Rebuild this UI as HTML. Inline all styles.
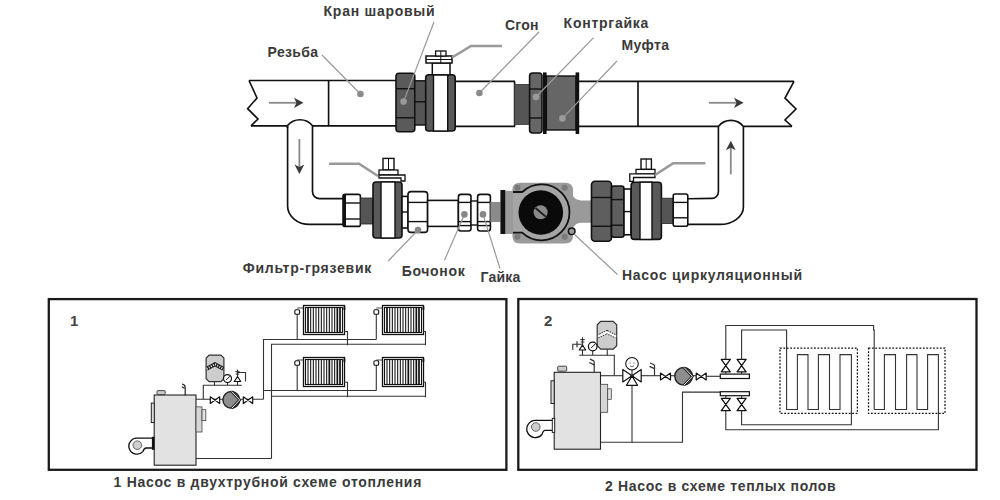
<!DOCTYPE html><html><head><meta charset="utf-8"><style>html,body{margin:0;padding:0;background:#fff;width:1000px;height:500px;overflow:hidden}svg{display:block}</style></head><body><svg width="1000" height="500" viewBox="0 0 1000 500"><g fill="none" stroke="#111" stroke-width="1.65"><path d="M249,80.5 L396,80.5"/><path d="M251,125.8 L287.4,125.8 M312.5,125.8 L396,125.8"/><path d="M249,80.5 L257,98 L247.6,108.6 L258,119 L251,125.8" stroke-linejoin="miter"/><line x1="328.6" y1="80.5" x2="328.6" y2="125.8"/><path d="M455,81.4 L515,81.4 M455,126.4 L515,126.4"/><path d="M579,81.4 L794,81.4 M579,126.4 L718.6,126.4 M743.8,126.4 L792,126.4"/><path d="M794,81.4 L785,98 L796,109 L785,120 L792,126.4"/><line x1="514.6" y1="81.4" x2="514.6" y2="126.4"/><line x1="638" y1="81.4" x2="638" y2="126.4"/></g><g stroke="#8a8a8a" stroke-width="1.8" fill="#3a3a3a"><line x1="269" y1="102.8" x2="297" y2="102.8"/><path d="M303.5,102.8 L294,97.7 L296.5,102.8 L294,107.9Z" stroke="none"/><line x1="709" y1="102.8" x2="737" y2="102.8"/><path d="M743.6,102.8 L734,97.7 L736.5,102.8 L734,107.9Z" stroke="none"/></g><g fill="none" stroke="#111" stroke-width="1.65"><path d="M287.4,128 L287.4,125.8 A16,16 0 0 1 312.5,125.8 L312.5,191.6 A7,7 0 0 0 319.5,198.6 L345.6,198.6"/><path d="M287.6,126 L287.6,206 A22,18.4 0 0 0 309.6,224.4 L345.6,224.4"/><path d="M687.8,198.7 L711.8,198.4 A6.6,6.6 0 0 0 718.4,191.8 L718.4,126.4 A16,16 0 0 1 743.4,126.4 L743.4,207 A23.6,17.4 0 0 1 719.8,224.4 L687.8,224.4"/></g><g stroke="#8a8a8a" stroke-width="1.8" fill="#3a3a3a"><line x1="299.4" y1="139" x2="299.4" y2="167"/><path d="M299.4,174 L294.5,164.5 L299.4,167 L304.3,164.5Z" stroke="none"/><line x1="730.8" y1="174.4" x2="730.8" y2="148"/><path d="M730.8,140.8 L725.9,150.3 L730.8,147.8 L735.7,150.3Z" stroke="none"/></g><rect x="396" y="73.2" width="18.80000000000001" height="58.60000000000001" rx="3" fill="#5a5a5a" stroke="#111" stroke-width="1.6"/><line x1="396" y1="88.7" x2="414.8" y2="88.7" stroke="#111" stroke-width="1.4"/><line x1="396" y1="117.8" x2="414.8" y2="117.8" stroke="#111" stroke-width="1.4"/><rect x="414.8" y="80.8" width="10.9" height="44.2" fill="#555" stroke="#111" stroke-width="1.4"/><line x1="414.8" y1="101.8" x2="425.7" y2="101.8" stroke="#111" stroke-width="1.4"/><rect x="425.7" y="74.8" width="29.5" height="56.2" rx="3" fill="#5a5a5a" stroke="#111" stroke-width="1.6"/><rect x="433.5" y="74.8" width="14.2" height="56.2" fill="#fff" stroke="#111" stroke-width="1.4"/><rect x="432.3" y="63" width="17.7" height="11.8" fill="#fff" stroke="#111" stroke-width="1.5"/><rect x="426" y="56" width="26" height="7" fill="#fff" stroke="#111" stroke-width="1.5"/><line x1="426" y1="59.5" x2="452" y2="59.5" stroke="#111" stroke-width="1"/><rect x="435.6" y="51" width="10.4" height="5" fill="#fff" stroke="#111" stroke-width="1.3"/><line x1="440.8" y1="51" x2="440.8" y2="63" stroke="#111" stroke-width="1"/><path d="M452,57.5 L471,46 L502,46" fill="none" stroke="#999" stroke-width="2.6"/><rect x="514.4" y="84.4" width="15.2" height="40" fill="#555" stroke="#333" stroke-width="0.8"/><rect x="529.6" y="73" width="12.399999999999977" height="60" rx="3" fill="#666" stroke="#111" stroke-width="1.6"/><line x1="529.6" y1="89" x2="542" y2="89" stroke="#111" stroke-width="1.4"/><line x1="529.6" y1="118" x2="542" y2="118" stroke="#111" stroke-width="1.4"/><rect x="546.4" y="76" width="29.6" height="54" fill="#666" stroke="#111" stroke-width="1.4"/><rect x="543" y="72.4" width="3.6" height="61.6" fill="#111"/><rect x="575.6" y="72.4" width="3.6" height="61.6" fill="#111"/><rect x="343" y="194.4" width="17.399999999999977" height="32.0" rx="2" fill="#fff" stroke="#111" stroke-width="1.6"/><line x1="343" y1="203" x2="360.4" y2="203" stroke="#111" stroke-width="1.4"/><line x1="343" y1="219" x2="360.4" y2="219" stroke="#111" stroke-width="1.4"/><rect x="343" y="194.4" width="3" height="32" fill="#111"/><rect x="360.4" y="198" width="12.6" height="26" fill="#555" stroke="#222" stroke-width="0.8"/><rect x="373" y="182" width="29" height="56" rx="3" fill="#5a5a5a" stroke="#111" stroke-width="1.6"/><rect x="381" y="182" width="14" height="56" fill="#fff" stroke="#111" stroke-width="1.4"/><rect x="383" y="158.4" width="11" height="11.6" fill="#fff" stroke="#111" stroke-width="1.4"/><line x1="388.5" y1="158.4" x2="388.5" y2="170" stroke="#111" stroke-width="1"/><rect x="379" y="170" width="19" height="5" fill="#fff" stroke="#111" stroke-width="1.3"/><path d="M379,175 L405,175 L405,181 L401,181 L401,178 L379,178Z" fill="#fff" stroke="#111" stroke-width="1.3"/><path d="M329,163.7 L359,163.7 L378,176" fill="none" stroke="#999" stroke-width="2.6"/><rect x="402" y="196.4" width="6" height="31.599999999999994" rx="0" fill="#fff" stroke="#111" stroke-width="1.6"/><line x1="402" y1="212" x2="408" y2="212" stroke="#111" stroke-width="1.4"/><rect x="408" y="191.6" width="19.600000000000023" height="40.80000000000001" rx="3" fill="#fff" stroke="#111" stroke-width="1.6"/><line x1="408" y1="202.4" x2="427.6" y2="202.4" stroke="#111" stroke-width="1.4"/><line x1="408" y1="221.6" x2="427.6" y2="221.6" stroke="#111" stroke-width="1.4"/><rect x="427.6" y="200.4" width="30.8" height="26" fill="#fff" stroke="#111" stroke-width="1.6"/><rect x="458.4" y="194.4" width="12.600000000000023" height="36.599999999999994" rx="2.5" fill="#fff" stroke="#111" stroke-width="1.6"/><line x1="458.4" y1="202.4" x2="471" y2="202.4" stroke="#111" stroke-width="1.4"/><line x1="458.4" y1="221.6" x2="471" y2="221.6" stroke="#111" stroke-width="1.4"/><line x1="458.4" y1="225.6" x2="471" y2="225.6" stroke="#111" stroke-width="1.4"/><rect x="471" y="201" width="6.6" height="24" fill="#fff" stroke="#111" stroke-width="1.4"/><rect x="477.6" y="194.4" width="12.799999999999955" height="36.599999999999994" rx="2.5" fill="#fff" stroke="#111" stroke-width="1.6"/><line x1="477.6" y1="202.4" x2="490.4" y2="202.4" stroke="#111" stroke-width="1.4"/><line x1="477.6" y1="221.6" x2="490.4" y2="221.6" stroke="#111" stroke-width="1.4"/><line x1="477.6" y1="225.6" x2="490.4" y2="225.6" stroke="#111" stroke-width="1.4"/><rect x="490.4" y="202" width="10" height="20" fill="#8a8a8a"/><path d="M505,190.8 L512.4,190.8 L512.4,190 Q512.4,182.8 520,182.8 L565,182.8 Q573,182.8 573,190 L573,196 Q576,200.4 581,200.4 L591,200.4 L591,222.8 L581,222.8 Q576,222.8 573,228 L573,236 Q573,243.6 565,243.6 L520,243.6 Q512.4,243.6 512.4,236 L512.4,234 L505,234Z" fill="#9a9a9a"/><rect x="500.4" y="190" width="4.8" height="44" fill="#111"/><path d="M513,192 L522.2,192 A28,28 0 1 1 522.2,232.6 L513,232.6" fill="#a5a5a5" stroke="#111" stroke-width="1.8"/><circle cx="540.8" cy="212.5" r="22.3" fill="#0a0a0a"/><circle cx="540.6" cy="212.3" r="7" fill="#8a8a8a"/><line x1="535.5" y1="208" x2="545.7" y2="216.6" stroke="#1a1a1a" stroke-width="1.8"/><circle cx="517.5" cy="187.8" r="3" fill="#7a7a7a"/><circle cx="564.7" cy="187.8" r="3" fill="#7a7a7a"/><circle cx="517.5" cy="236.8" r="3" fill="#7a7a7a"/><circle cx="564.7" cy="236.8" r="3" fill="#7a7a7a"/><circle cx="571.7" cy="231.2" r="3.3" fill="#9a9a9a" stroke="#111" stroke-width="1.5"/><rect x="591.5" y="181.2" width="20.0" height="60.0" rx="3.5" fill="#5e5e5e" stroke="#111" stroke-width="1.6"/><line x1="591.5" y1="197.5" x2="611.5" y2="197.5" stroke="#111" stroke-width="1.4"/><line x1="591.5" y1="226.3" x2="611.5" y2="226.3" stroke="#111" stroke-width="1.4"/><rect x="611.5" y="186" width="12.5" height="51.19999999999999" rx="2.5" fill="#5e5e5e" stroke="#111" stroke-width="1.6"/><line x1="611.5" y1="199.6" x2="624" y2="199.6" stroke="#111" stroke-width="1.4"/><line x1="611.5" y1="225.2" x2="624" y2="225.2" stroke="#111" stroke-width="1.4"/><rect x="624" y="189" width="7" height="45.80000000000001" rx="0" fill="#fff" stroke="#111" stroke-width="1.6"/><line x1="624" y1="211.6" x2="631" y2="211.6" stroke="#111" stroke-width="1.4"/><rect x="631.2" y="182.2" width="30.2" height="57.2" rx="3" fill="#5a5a5a" stroke="#111" stroke-width="1.6"/><rect x="640" y="182.2" width="12" height="57.2" fill="#fff" stroke="#111" stroke-width="1.4"/><rect x="641" y="159" width="10.4" height="10.4" fill="#fff" stroke="#111" stroke-width="1.4"/><line x1="646.2" y1="159" x2="646.2" y2="169.4" stroke="#111" stroke-width="1"/><rect x="636" y="169.4" width="19" height="4.4" fill="#fff" stroke="#111" stroke-width="1.3"/><path d="M629.8,181.4 L629.8,173.8 L655,173.8 L655,177.5 L633.5,177.5 L633.5,181.4Z" fill="#fff" stroke="#111" stroke-width="1.3"/><path d="M655,175 L673.2,163.2 L705.4,163.2" fill="none" stroke="#999" stroke-width="2.6"/><rect x="661.4" y="198.2" width="11.8" height="25.2" fill="#555" stroke="#222" stroke-width="0.8"/><rect x="673.2" y="194" width="14.599999999999909" height="32.19999999999999" rx="2" fill="#fff" stroke="#111" stroke-width="1.6"/><line x1="673.2" y1="202.4" x2="687.8" y2="202.4" stroke="#111" stroke-width="1.4"/><line x1="673.2" y1="217.8" x2="687.8" y2="217.8" stroke="#111" stroke-width="1.4"/><g stroke="#999" stroke-width="1.2"><line x1="322" y1="55" x2="360.4" y2="94"/><line x1="434" y1="22" x2="403.6" y2="101.6"/><line x1="539" y1="32" x2="479.4" y2="93"/><line x1="593.6" y1="37.6" x2="536" y2="97"/><line x1="617" y1="61" x2="562.4" y2="118.4"/><line x1="388.2" y1="261" x2="418" y2="230"/><line x1="444.5" y1="260.2" x2="464.4" y2="214.4"/><line x1="500" y1="268.5" x2="483" y2="214.4"/><line x1="617.5" y1="274.5" x2="574" y2="234"/></g><circle cx="360.4" cy="94" r="3.3" fill="#8a8a8a"/><circle cx="479.4" cy="93" r="3.3" fill="#8a8a8a"/><circle cx="403.6" cy="101.6" r="3.3" fill="#999"/><circle cx="536" cy="97" r="3.3" fill="#9a9a9a"/><circle cx="562.4" cy="118.4" r="3.3" fill="#9a9a9a"/><circle cx="418" cy="230" r="3.3" fill="#888"/><circle cx="464.4" cy="214.4" r="3.3" fill="#888"/><circle cx="483" cy="214.4" r="3.3" fill="#888"/><g font-family="Liberation Sans, sans-serif" font-weight="bold" font-size="14" fill="#3a3a3a"><text x="323.6" y="16" textLength="111" lengthAdjust="spacing">Кран шаровый</text><text x="267.6" y="57" textLength="50.4" lengthAdjust="spacing">Резьба</text><text x="505" y="29.6" textLength="33.4" lengthAdjust="spacing">Сгон</text><text x="563.6" y="28" textLength="84.8" lengthAdjust="spacing">Контргайка</text><text x="621.6" y="50.4" textLength="47.4" lengthAdjust="spacing">Муфта</text><text x="242.7" y="273.3" textLength="128.6" lengthAdjust="spacing">Фильтр-грязевик</text><text x="401.7" y="276" textLength="63" lengthAdjust="spacing">Бочонок</text><text x="480.5" y="281.7" textLength="39.7" lengthAdjust="spacing">Гайка</text><text x="622" y="279.5" textLength="180" lengthAdjust="spacing">Насос циркуляционный</text><text x="113.6" y="487.1" textLength="307.7" lengthAdjust="spacing">1 Насос в двухтрубной схеме отопления</text><text x="605" y="490.7" textLength="230.7" lengthAdjust="spacing">2 Насос в схеме теплых полов</text></g><rect x="48.8" y="299.1" width="457.6" height="170.7" fill="none" stroke="#1a1a1a" stroke-width="2.3"/><rect x="518.3" y="299" width="458.2" height="170.8" fill="none" stroke="#1a1a1a" stroke-width="2.3"/><rect x="303.5" y="305.5" width="41.0" height="29.0" fill="#fff" stroke="#111" stroke-width="1.3"/><rect x="305.5" y="307.5" width="37.0" height="25.0" fill="#fff" stroke="#111" stroke-width="1.1"/><rect x="307.15" y="307.5" width="1.7" height="25.0" fill="#111"/><rect x="310.14" y="307.5" width="1.05" height="25.0" fill="#111"/><rect x="312.81" y="307.5" width="1.05" height="25.0" fill="#111"/><rect x="315.48" y="307.5" width="1.05" height="25.0" fill="#111"/><rect x="318.14" y="307.5" width="1.05" height="25.0" fill="#111"/><rect x="320.81" y="307.5" width="1.05" height="25.0" fill="#111"/><rect x="323.48" y="307.5" width="1.05" height="25.0" fill="#111"/><rect x="326.14" y="307.5" width="1.05" height="25.0" fill="#111"/><rect x="328.81" y="307.5" width="1.05" height="25.0" fill="#111"/><rect x="331.48" y="307.5" width="1.05" height="25.0" fill="#111"/><rect x="334.14" y="307.5" width="1.05" height="25.0" fill="#111"/><rect x="336.48" y="307.5" width="1.7" height="25.0" fill="#111"/><rect x="339.15" y="307.5" width="1.7" height="25.0" fill="#111"/><rect x="303.5" y="357.5" width="41.0" height="29.0" fill="#fff" stroke="#111" stroke-width="1.3"/><rect x="305.5" y="359.5" width="37.0" height="25.0" fill="#fff" stroke="#111" stroke-width="1.1"/><rect x="307.48" y="359.5" width="1.05" height="25.0" fill="#111"/><rect x="310.14" y="359.5" width="1.05" height="25.0" fill="#111"/><rect x="312.81" y="359.5" width="1.05" height="25.0" fill="#111"/><rect x="315.48" y="359.5" width="1.05" height="25.0" fill="#111"/><rect x="318.14" y="359.5" width="1.05" height="25.0" fill="#111"/><rect x="320.81" y="359.5" width="1.05" height="25.0" fill="#111"/><rect x="323.48" y="359.5" width="1.05" height="25.0" fill="#111"/><rect x="326.14" y="359.5" width="1.05" height="25.0" fill="#111"/><rect x="328.48" y="359.5" width="1.7" height="25.0" fill="#111"/><rect x="331.48" y="359.5" width="1.05" height="25.0" fill="#111"/><rect x="334.14" y="359.5" width="1.05" height="25.0" fill="#111"/><rect x="336.48" y="359.5" width="1.7" height="25.0" fill="#111"/><rect x="339.15" y="359.5" width="1.7" height="25.0" fill="#111"/><rect x="382.5" y="305.5" width="41.0" height="29.0" fill="#fff" stroke="#111" stroke-width="1.3"/><rect x="384.5" y="307.5" width="37.0" height="25.0" fill="#fff" stroke="#111" stroke-width="1.1"/><rect x="386.15" y="307.5" width="1.7" height="25.0" fill="#111"/><rect x="389.14" y="307.5" width="1.05" height="25.0" fill="#111"/><rect x="391.81" y="307.5" width="1.05" height="25.0" fill="#111"/><rect x="394.48" y="307.5" width="1.05" height="25.0" fill="#111"/><rect x="397.14" y="307.5" width="1.05" height="25.0" fill="#111"/><rect x="399.81" y="307.5" width="1.05" height="25.0" fill="#111"/><rect x="402.48" y="307.5" width="1.05" height="25.0" fill="#111"/><rect x="405.14" y="307.5" width="1.05" height="25.0" fill="#111"/><rect x="407.81" y="307.5" width="1.05" height="25.0" fill="#111"/><rect x="410.48" y="307.5" width="1.05" height="25.0" fill="#111"/><rect x="413.14" y="307.5" width="1.05" height="25.0" fill="#111"/><rect x="415.48" y="307.5" width="1.7" height="25.0" fill="#111"/><rect x="418.15" y="307.5" width="1.7" height="25.0" fill="#111"/><rect x="382.5" y="357.5" width="41.0" height="29.0" fill="#fff" stroke="#111" stroke-width="1.3"/><rect x="384.5" y="359.5" width="37.0" height="25.0" fill="#fff" stroke="#111" stroke-width="1.1"/><rect x="386.48" y="359.5" width="1.05" height="25.0" fill="#111"/><rect x="389.14" y="359.5" width="1.05" height="25.0" fill="#111"/><rect x="391.81" y="359.5" width="1.05" height="25.0" fill="#111"/><rect x="394.48" y="359.5" width="1.05" height="25.0" fill="#111"/><rect x="397.14" y="359.5" width="1.05" height="25.0" fill="#111"/><rect x="399.81" y="359.5" width="1.05" height="25.0" fill="#111"/><rect x="402.48" y="359.5" width="1.05" height="25.0" fill="#111"/><rect x="405.14" y="359.5" width="1.05" height="25.0" fill="#111"/><rect x="407.48" y="359.5" width="1.7" height="25.0" fill="#111"/><rect x="410.48" y="359.5" width="1.05" height="25.0" fill="#111"/><rect x="413.14" y="359.5" width="1.05" height="25.0" fill="#111"/><rect x="415.48" y="359.5" width="1.7" height="25.0" fill="#111"/><rect x="418.15" y="359.5" width="1.7" height="25.0" fill="#111"/><path d="M297.2,339.5 L297.2,312" fill="none" stroke="#333" stroke-width="1.1"/><path d="M297.2,308 L303,308" fill="none" stroke="#333" stroke-width="0.9"/><rect x="294.8" y="309.8" width="4.8" height="4.4" rx="1.3" fill="#fff" stroke="#111" stroke-width="1.1"/><path d="M344,331.5 L347.5,331.5 L347.5,345.2" fill="none" stroke="#333" stroke-width="1.1"/><rect x="343.5" y="306.5" width="1.8" height="3.5" fill="#111"/><path d="M297.2,390.5 L297.2,363" fill="none" stroke="#333" stroke-width="1.1"/><path d="M297.2,360 L303,360" fill="none" stroke="#333" stroke-width="0.9"/><rect x="294.8" y="360.8" width="4.8" height="4.4" rx="1.3" fill="#fff" stroke="#111" stroke-width="1.1"/><path d="M344,382.2 L347.5,382.2 L347.5,397.2" fill="none" stroke="#333" stroke-width="1.1"/><rect x="343.5" y="358.5" width="1.8" height="3.5" fill="#111"/><path d="M376.3,339.5 L376.3,312" fill="none" stroke="#333" stroke-width="1.1"/><path d="M376.3,308 L382,308" fill="none" stroke="#333" stroke-width="0.9"/><rect x="373.90000000000003" y="309.8" width="4.8" height="4.4" rx="1.3" fill="#fff" stroke="#111" stroke-width="1.1"/><path d="M423,331.5 L425.5,331.5 L425.5,345.2" fill="none" stroke="#333" stroke-width="1.1"/><rect x="422.5" y="306.5" width="1.8" height="3.5" fill="#111"/><path d="M376.3,390.5 L376.3,363" fill="none" stroke="#333" stroke-width="1.1"/><path d="M376.3,360 L382,360" fill="none" stroke="#333" stroke-width="0.9"/><rect x="373.90000000000003" y="360.8" width="4.8" height="4.4" rx="1.3" fill="#fff" stroke="#111" stroke-width="1.1"/><path d="M423,382.2 L425.5,382.2 L425.5,397.2" fill="none" stroke="#333" stroke-width="1.1"/><rect x="422.5" y="358.5" width="1.8" height="3.5" fill="#111"/><path d="M263.5,399.3 L263.5,339.5 L376.3,339.5" fill="none" stroke="#333" stroke-width="1.1"/><path d="M263.5,390.5 L376.3,390.5" fill="none" stroke="#333" stroke-width="1.1"/><path d="M271.5,458.5 L271.5,344.2 L425.5,344.2" fill="none" stroke="#333" stroke-width="1.1"/><path d="M271.5,396.2 L425.5,396.2" fill="none" stroke="#333" stroke-width="1.1"/><path d="M196,458.5 L271.5,458.5" fill="none" stroke="#333" stroke-width="1.1"/><path d="M196,399.3 L263.5,399.3" fill="none" stroke="#333" stroke-width="1.1"/><path d="M203.3,399.3 L203.3,385.3 L241.8,385.3" fill="none" stroke="#333" stroke-width="1.1"/><path d="M214.5,381.7 L214.5,385.3" fill="none" stroke="#333" stroke-width="1.1"/><path d="M227.5,382.6 L227.5,385.3" fill="none" stroke="#333" stroke-width="1.1"/><path d="M210.3,396.8 L219.7,403.59999999999997 L219.7,396.8 L210.3,403.59999999999997Z" fill="#fff" stroke="#111" stroke-width="1.2" stroke-linejoin="round"/><path d="M243.3,396.8 L252.7,403.59999999999997 L252.7,396.8 L243.3,403.59999999999997Z" fill="#fff" stroke="#111" stroke-width="1.2" stroke-linejoin="round"/><circle cx="231.3" cy="399.9" r="8.4" fill="#8e8e8e" stroke="#222" stroke-width="1.4"/><path d="M231.72,391.5 L239.70000000000002,399.9 L231.72,408.29999999999995" fill="none" stroke="#222" stroke-width="2.6" stroke-linejoin="miter"/><path d="M231.72,391.5 L239.70000000000002,399.9 L231.72,408.29999999999995" fill="none" stroke="#eee" stroke-width="1"/><path d="M209.1,355.1 L220.9,355.1 L223.9,358.1 L223.9,378.7 L220.9,381.7 L209.1,381.7 L206.1,378.7 L206.1,358.1Z" fill="#cdcdcd" stroke="#333" stroke-width="1.2"/><path d="M206.7,368.74 L215.0,364.24 L223.3,368.74" fill="none" stroke="#1a1a1a" stroke-width="4"/><path d="M206.7,368.74 L215.0,364.24 L223.3,368.74" fill="none" stroke="#fff" stroke-width="2.2" stroke-dasharray="0.9 1.5"/><circle cx="227.5" cy="378.6" r="4" fill="#fff" stroke="#111" stroke-width="1.2"/><line x1="226.0" y1="380.1" x2="230.0" y2="376.1" stroke="#111" stroke-width="1"/><path d="M237.5,385.3 L237.5,381.5" fill="none" stroke="#333" stroke-width="1.1"/><path d="M234.3,381.5 L240.7,381.5 L237.5,376.5Z" fill="#fff" stroke="#111" stroke-width="1.2" stroke-linejoin="round"/><path d="M237.5,376.5 L237.5,369.5" fill="none" stroke="#333" stroke-width="1.2"/><path d="M235.3,371.7 L239.7,371.7" fill="none" stroke="#333" stroke-width="1.1"/><path d="M235.7,374.1 L239.3,374.1" fill="none" stroke="#333" stroke-width="1"/><path d="M237.5,372.5 L245.5,372.5 L245.5,381.5" fill="none" stroke="#333" stroke-width="1.1"/><rect x="154.2" y="395" width="41.80000000000001" height="70.19999999999999" fill="#e2e2e2" stroke="#222" stroke-width="1.1"/><rect x="151.3" y="403.1" width="3" height="19.4" fill="#ddd" stroke="#222" stroke-width="1"/><rect x="196" y="406.9" width="6" height="25.1" fill="#d6d6d6" stroke="#444" stroke-width="0.8"/><rect x="202" y="409.7" width="3.8" height="10.9" fill="#e4e4e4" stroke="#444" stroke-width="0.8"/><rect x="157" y="390.6" width="8.2" height="4" rx="1" fill="#ccc" stroke="#333" stroke-width="0.9"/><path d="M185.2,395.5 L185.2,387.5 Q185.2,384.6 182,384" fill="none" stroke="#222" stroke-width="1.2"/><path d="M181.8,386.8 L184.6,388.2" fill="none" stroke="#222" stroke-width="1.1"/><path d="M152,438.2 L136.9,438.2 A8,8 0 1 0 143.03,451.34 Q144.23,448.0 146.03,448.0 L152,448.0" fill="#fff" stroke="#111" stroke-width="1.3"/><circle cx="137.3" cy="445.2" r="4.3" fill="#d0d0d0" stroke="#555" stroke-width="0.9"/><rect x="151.9" y="436.8" width="2.6" height="13" fill="#111"/><rect x="554.2" y="372.3" width="46.299999999999955" height="76.89999999999998" fill="#e2e2e2" stroke="#222" stroke-width="1.1"/><rect x="551" y="380.8" width="3.2" height="22.7" fill="#ddd" stroke="#222" stroke-width="1"/><rect x="600.5" y="384.3" width="7.2" height="28" fill="#d6d6d6" stroke="#444" stroke-width="0.8"/><rect x="607.7" y="388.8" width="3.6" height="10.5" fill="#e4e4e4" stroke="#444" stroke-width="0.8"/><rect x="557.7" y="366.2" width="9" height="5" rx="1" fill="#ccc" stroke="#333" stroke-width="0.9"/><path d="M552.3,420.4 L535.4,420.4 A8.6,8.6 0 1 0 541.99,434.53 Q543.19,430.4 544.99,430.4 L552.3,430.4" fill="#fff" stroke="#111" stroke-width="1.3"/><circle cx="535.8" cy="427" r="4.3" fill="#d0d0d0" stroke="#555" stroke-width="0.9"/><rect x="552.3" y="418.4" width="2.4" height="14" fill="#fff" stroke="#222" stroke-width="1"/><path d="M600.5,375.7 L623,375.7" fill="none" stroke="#333" stroke-width="1.1"/><path d="M641,375.7 L660.2,375.7" fill="none" stroke="#333" stroke-width="1.1"/><path d="M670.8,375.7 L675,375.7" fill="none" stroke="#333" stroke-width="1.1"/><path d="M692,375.7 L696.1,375.7" fill="none" stroke="#333" stroke-width="1.1"/><path d="M706.4,376.3 L720.3,376.3" fill="none" stroke="#333" stroke-width="1.1"/><path d="M614.3,375.7 L614.3,355.2 L579.2,355.2" fill="none" stroke="#333" stroke-width="1.1"/><path d="M607.25,349.2 L607.25,355.2" fill="none" stroke="#333" stroke-width="1.1"/><path d="M592.7,351 L592.7,355.2" fill="none" stroke="#333" stroke-width="1.1"/><path d="M600.7,321.3 L613.2,321.3 L616.7,324.8 L616.7,345.7 L613.2,349.2 L600.7,349.2 L597.2,345.7 L597.2,324.8Z" fill="#cdcdcd" stroke="#333" stroke-width="1.2"/><path d="M597.8000000000001,336.576 L606.95,332.076 L616.1,336.576" fill="none" stroke="#333" stroke-width="4" stroke-dasharray="1.3 1.2"/><path d="M597.8000000000001,336.576 L606.95,332.076 L616.1,336.576" fill="none" stroke="#fff" stroke-width="2"/><circle cx="592.7" cy="346.5" r="4.3" fill="#fff" stroke="#111" stroke-width="1.2"/><line x1="591.2" y1="348.0" x2="595.2" y2="344.0" stroke="#111" stroke-width="1"/><path d="M582.5,355.2 L582.5,350" fill="none" stroke="#333" stroke-width="1.1"/><path d="M579.3,350 L585.7,350 L582.5,345Z" fill="#fff" stroke="#111" stroke-width="1.2" stroke-linejoin="round"/><path d="M582.5,345 L582.5,337.4" fill="none" stroke="#333" stroke-width="1.2"/><path d="M580.3,339.59999999999997 L584.7,339.59999999999997" fill="none" stroke="#333" stroke-width="1.1"/><path d="M580.7,342.0 L584.3,342.0" fill="none" stroke="#333" stroke-width="1"/><path d="M582.5,344.3 L572.8,344.3 L572.8,350" fill="none" stroke="#333" stroke-width="1.1"/><path d="M577,341.3 L577,347.3" fill="none" stroke="#333" stroke-width="1.2"/><path d="M594.2,372.3 L594.2,361.2" fill="none" stroke="#333" stroke-width="1.2"/><path d="M589.9000000000001,359.2 L594.2,361.2" fill="none" stroke="#333" stroke-width="1.3"/><path d="M589.2,362.5 L594.2,364.8" fill="none" stroke="#333" stroke-width="1.3"/><path d="M654.5,375.7 L654.5,365" fill="none" stroke="#333" stroke-width="1.2"/><path d="M650.2,363 L654.5,365" fill="none" stroke="#333" stroke-width="1.3"/><path d="M649.5,366.3 L654.5,368.6" fill="none" stroke="#333" stroke-width="1.3"/><path d="M632,375.75 L622.8,369.5 L622.8,382Z M632,375.75 L641.2,369.5 L641.2,382Z M632,376 L626.5,385.3 L637.5,385.3Z" fill="#fff" stroke="#111" stroke-width="1.2" stroke-linejoin="round"/><circle cx="632" cy="375.75" r="1.6" fill="#111"/><path d="M632,375.75 L632,370" fill="none" stroke="#333" stroke-width="1.1"/><circle cx="632" cy="363.75" r="6.3" fill="#fff" stroke="#111" stroke-width="1.1"/><circle cx="630" cy="363" r="0.6" fill="#333"/><circle cx="634" cy="363" r="0.6" fill="#333"/><path d="M630,365.8 Q632,367.4 634,365.8" fill="none" stroke="#333" stroke-width="0.7"/><path d="M632,385.5 L632,442.3 L600.5,442.3" fill="none" stroke="#333" stroke-width="1.1"/><path d="M632,442.3 L682.5,442.3 L682.5,392.1 L720.3,392.1" fill="none" stroke="#333" stroke-width="1.1"/><path d="M660.5,373.0 L670.5,380.0 L670.5,373.0 L660.5,380.0Z" fill="#fff" stroke="#111" stroke-width="1.2" stroke-linejoin="round"/><path d="M696.2,373.0 L706.2,380.0 L706.2,373.0 L696.2,380.0Z" fill="#fff" stroke="#111" stroke-width="1.2" stroke-linejoin="round"/><circle cx="683.6" cy="376.3" r="8.8" fill="#8e8e8e" stroke="#222" stroke-width="1.4"/><path d="M684.0400000000001,367.5 L692.4,376.3 L684.0400000000001,385.1" fill="none" stroke="#222" stroke-width="2.6" stroke-linejoin="miter"/><path d="M684.0400000000001,367.5 L692.4,376.3 L684.0400000000001,385.1" fill="none" stroke="#eee" stroke-width="1"/><rect x="720.3" y="374.1" width="29.1" height="4.4" fill="#fff" stroke="#111" stroke-width="1.2"/><rect x="720.3" y="391.7" width="29.1" height="4" fill="#fff" stroke="#111" stroke-width="1.2"/><path d="M725.8,372 L725.8,374.1" fill="none" stroke="#333" stroke-width="1.1"/><path d="M725.8,395.7 L725.8,398.3" fill="none" stroke="#333" stroke-width="1.1"/><path d="M721.3,359.40000000000003 L730.3,371.8 L721.3,371.8 L730.3,359.40000000000003Z" fill="#fff" stroke="#111" stroke-width="1.3" stroke-linejoin="round"/><path d="M721.3,398.3 L730.3,410.7 L721.3,410.7 L730.3,398.3Z" fill="#fff" stroke="#111" stroke-width="1.3" stroke-linejoin="round"/><path d="M741.6,372 L741.6,374.1" fill="none" stroke="#333" stroke-width="1.1"/><path d="M741.6,395.7 L741.6,398.3" fill="none" stroke="#333" stroke-width="1.1"/><path d="M737.1,359.40000000000003 L746.1,371.8 L737.1,371.8 L746.1,359.40000000000003Z" fill="#fff" stroke="#111" stroke-width="1.3" stroke-linejoin="round"/><path d="M737.1,398.3 L746.1,410.7 L737.1,410.7 L746.1,398.3Z" fill="#fff" stroke="#111" stroke-width="1.3" stroke-linejoin="round"/><path d="M725.8,359.4 L725.8,325.5 L873.6,325.5 L873.6,330 L874.2,330 L874.2,409.5" fill="none" stroke="#333" stroke-width="1.1"/><path d="M741.6,359.4 L741.6,330 L786.6,330 L786.6,409.5 L797.4,409.5 L797.4,354.6 L808,354.6 L808,409.5 L818.4,409.5 L818.4,354.6 L829.5,354.6 L829.5,409.5 L840,409.5 L840,354.6 L851.4,354.6 L851.4,424.7 L741.6,424.7 L741.6,410.8" fill="none" stroke="#333" stroke-width="1.1"/><path d="M874.2,409.5 L884.4,409.5 L884.4,354.6 L895.5,354.6 L895.5,409.5 L906.6,409.5 L906.6,354.6 L917,354.6 L917,409.5 L927.6,409.5 L927.6,354.6 L938.4,354.6 L938.4,429.8 L725.8,429.8 L725.8,410.8" fill="none" stroke="#333" stroke-width="1.1"/><rect x="780" y="348" width="77.4" height="65.4" fill="none" stroke="#111" stroke-width="1.25" stroke-dasharray="1.8 1.6"/><rect x="868.5" y="348" width="76.5" height="65.4" fill="none" stroke="#111" stroke-width="1.25" stroke-dasharray="1.8 1.6"/><g font-family="Liberation Sans, sans-serif" font-weight="bold" font-size="15" fill="#444"><text x="70" y="325.5">1</text><text x="544" y="326">2</text></g></svg></body></html>
